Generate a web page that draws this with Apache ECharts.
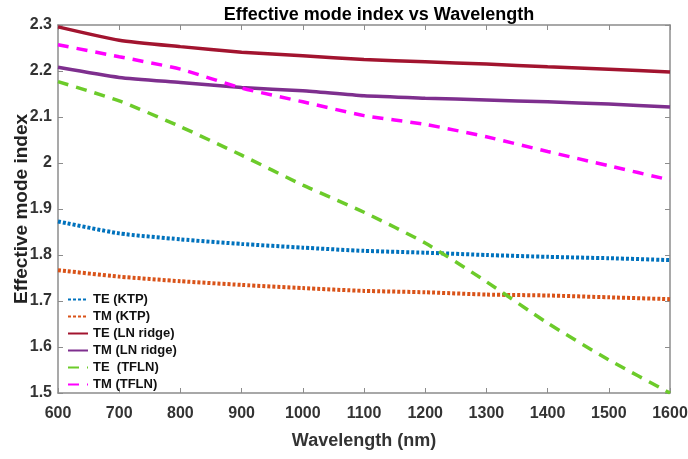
<!DOCTYPE html>
<html>
<head>
<meta charset="utf-8">
<script src="https://cdn.jsdelivr.net/npm/echarts@6/dist/echarts.min.js"></script>
<style>
  html, body { margin: 0; padding: 0; background: #fff; }
  #chart { width: 688px; height: 459px; }
</style>
</head>
<body>
<div id="chart"></div>
<script>
// wavelength (nm)
const wavelengths = [600, 700, 800, 900, 1000, 1100, 1200, 1300, 1400, 1500, 1600];

// effective mode index
const teKTP = [1.873, 1.847, 1.834, 1.824, 1.816, 1.809, 1.805, 1.800, 1.796, 1.793, 1.789];
const tmKTP = [1.767, 1.753, 1.743, 1.735, 1.728, 1.722, 1.719, 1.714, 1.712, 1.708, 1.704];
const teLNridge = [2.296, 2.267, 2.253, 2.241, 2.233, 2.225, 2.220, 2.215, 2.209, 2.204, 2.198];
const tmLNridge = [2.208, 2.186, 2.175, 2.164, 2.157, 2.146, 2.141, 2.137, 2.133, 2.128, 2.122];
const teTFLN = [2.177, 2.135, 2.079, 2.017, 1.952, 1.893, 1.826, 1.742, 1.652, 1.572, 1.500];
const tmTFLN = [2.257, 2.231, 2.204, 2.163, 2.133, 2.103, 2.084, 2.057, 2.025, 1.994, 1.963];

const xTicks = [600, 700, 800, 900, 1000, 1100, 1200, 1300, 1400, 1500, 1600];
const yTicks = [1.5, 1.6, 1.7, 1.8, 1.9, 2.0, 2.1, 2.2, 2.3];

function pairs(ys) {
    return wavelengths.map(function (x, i) { return [x, ys[i]]; });
}

let chart = echarts.init(document.getElementById('chart'));

const font = 'Liberation Sans, Arial, sans-serif';
const boxLine = { show: true, onZero: false, lineStyle: { color: '#8c8c8c', width: 1.5 } };
const innerTick = { show: true, inside: true, length: 5, lineStyle: { color: '#8c8c8c', width: 1 } };

let option = {
    animation: false,
    title: {
        text: 'Effective mode index vs Wavelength',
        left: 374,
        top: 1,
        textAlign: 'center',
        textStyle: { fontFamily: font, fontSize: 18, fontWeight: 'bold', color: '#000' }
    },
    grid: {
        left: 58,
        right: 18,
        top: 25,
        bottom: 66,
        outerBoundsMode: 'none'
    },
    // Add legend
    legend: {
        orient: 'vertical',
        left: 62,
        top: 288,
        itemWidth: 20,
        itemHeight: 14,
        itemGap: 4,
        itemStyle: { opacity: 0 },
        textStyle: { fontFamily: font, fontSize: 13, fontWeight: 'bold', color: '#111' },
        data: ['TE (KTP)', 'TM (KTP)', 'TE (LN ridge)', 'TM (LN ridge)', 'TE  (TFLN)', 'TM (TFLN)']
    },
    xAxis: [{
        type: 'value',
        min: 600,
        max: 1600,
        interval: 100,
        name: 'Wavelength (nm)',
        nameLocation: 'middle',
        nameGap: 39,
        nameTextStyle: { fontFamily: font, fontSize: 18, fontWeight: 'bold', color: '#333' },
        axisLine: boxLine,
        axisTick: innerTick,
        splitLine: { show: false },
        axisLabel: {
            margin: 13,
            fontFamily: font, fontSize: 16, fontWeight: 'bold', color: '#333',
            formatter: function (v) { return xTicks.indexOf(v) >= 0 ? String(v) : ''; }
        }
    }, {
        type: 'value',
        position: 'top',
        min: 600,
        max: 1600,
        interval: 100,
        axisLine: boxLine,
        axisTick: innerTick,
        splitLine: { show: false },
        axisLabel: { show: false }
    }],
    yAxis: [{
        type: 'value',
        min: 1.5,
        max: 2.3,
        interval: 0.1,
        name: 'Effective mode index',
        nameLocation: 'middle',
        nameGap: 36,
        nameMoveOverlap: false,
        nameTextStyle: { fontFamily: font, fontSize: 19, fontWeight: 'bold', color: '#222', verticalAlign: 'middle' },
        axisLine: boxLine,
        axisTick: innerTick,
        splitLine: { show: false },
        axisLabel: {
            margin: 6,
            fontFamily: font, fontSize: 16, fontWeight: 'bold', color: '#333',
            formatter: function (v) {
                let r = Math.round(v * 10) / 10;
                return yTicks.indexOf(r) >= 0 ? String(r) : '';
            }
        }
    }, {
        type: 'value',
        position: 'right',
        min: 1.5,
        max: 2.3,
        interval: 0.1,
        axisLine: boxLine,
        axisTick: innerTick,
        splitLine: { show: false },
        axisLabel: { show: false }
    }],
    series: [{
            name: 'TE (KTP)',
            type: 'line',
            symbol: 'none',
            smooth: 0.2,
            color: '#0072BD',
            lineStyle: { width: 4, type: [3, 2] },
            data: pairs(teKTP)
        },
        {
            name: 'TM (KTP)',
            type: 'line',
            symbol: 'none',
            smooth: 0.2,
            color: '#D95319',
            lineStyle: { width: 4, type: [3, 2] },
            data: pairs(tmKTP)
        },
        {
            name: 'TE (LN ridge)',
            type: 'line',
            symbol: 'none',
            smooth: 0.2,
            color: '#A2142F',
            lineStyle: { width: 3.5 },
            data: pairs(teLNridge)
        },
        {
            name: 'TM (LN ridge)',
            type: 'line',
            symbol: 'none',
            smooth: 0.2,
            color: '#7E2F8E',
            lineStyle: { width: 3.5 },
            data: pairs(tmLNridge)
        },
        {
            name: 'TE  (TFLN)',
            type: 'line',
            symbol: 'none',
            smooth: 0.2,
            color: '#6CCB2A',
            lineStyle: { width: 3.5, type: [11, 8] },
            data: pairs(teTFLN)
        },
        {
            name: 'TM (TFLN)',
            type: 'line',
            symbol: 'none',
            smooth: 0.2,
            color: '#FF00FF',
            lineStyle: { width: 3.5, type: [11, 8] },
            data: pairs(tmTFLN)
        }
    ]
};

chart.setOption(option);

window.addEventListener('resize', function () {
    chart.resize();
});
</script>
</body>
</html>
